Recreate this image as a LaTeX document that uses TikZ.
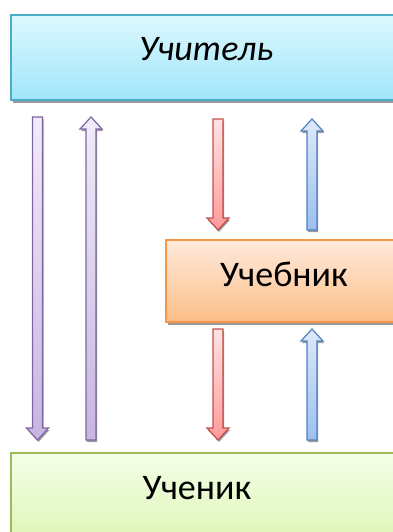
\documentclass[tikz,border=0pt]{standalone}
\usepackage{fontspec}
\setmainfont{Carlito}
\usetikzlibrary{shadings}
\definecolor{tealB}{HTML}{4BACC6}
\definecolor{tealT}{HTML}{DDF8FF}
\definecolor{tealD}{HTML}{A0E6FA}
\definecolor{orB}{HTML}{F79646}
\definecolor{orT}{HTML}{FFEADB}
\definecolor{orD}{HTML}{FBBE88}
\definecolor{grB}{HTML}{9BBB59}
\definecolor{grT}{HTML}{F5FFE8}
\definecolor{grD}{HTML}{DCF5B4}
\definecolor{puB}{HTML}{8064A2}
\definecolor{puT}{HTML}{F0ECF8}
\definecolor{puD}{HTML}{C7B5E2}
\definecolor{reB}{HTML}{C0504D}
\definecolor{reT}{HTML}{FFE2E2}
\definecolor{reD}{HTML}{FF9A9A}
\definecolor{blB}{HTML}{4F81BD}
\definecolor{blT}{HTML}{DEE9FA}
\definecolor{blD}{HTML}{9CC0F0}
\definecolor{shad}{HTML}{9A9A9A}
\tikzset{
  boxtext/.style={font=\fontsize{36}{40}\selectfont, anchor=base, inner sep=0pt},
  shadowfill/.style={fill=shad, draw=none},
}
% block arrow: #1 x, #2 y start (tail), #3 y tip, #4 border, #5 top color, #6 bottom color
\newcommand{\myblockarrow}[6]{%
  \pgfmathsetmacro{\dir}{(#3>#2)?1:-1}%
  \pgfmathsetmacro{\hb}{#3-12*\dir}%
  \fill[shad] (#1-5+1,#2+2) -- (#1+5+1,#2+2) -- (#1+5+1,\hb+2) -- (#1+11+1,\hb+2) -- (#1+1,#3+2) -- (#1-11+1,\hb+2) -- (#1-5+1,\hb+2) -- cycle;
  \shade[top color=#5, bottom color=#6, draw=#4, line width=1.2pt, line join=miter]
    (#1-5,#2) -- (#1+5,#2) -- (#1+5,\hb) -- (#1+11,\hb) -- (#1,#3) -- (#1-11,\hb) -- (#1-5,\hb) -- cycle;
}
\begin{document}
\begin{tikzpicture}[x=1pt,y=-1pt]
\useasboundingbox (0,0) rectangle (392,532);
% shadows of boxes
\fill[shad] (13,18) rectangle (404,103);
\fill[shad] (168,243) rectangle (404,325);
% boxes
\shade[top color=tealT, bottom color=tealD, draw=tealB, line width=1.5pt] (11,15) rectangle (402,100);
\node[inner sep=0pt, minimum size=0pt] (teacher) at (206,57) {};
\shade[top color=orT, bottom color=orD, draw=orB, line width=1.5pt] (166,240) rectangle (402,322);
\node[inner sep=0pt, minimum size=0pt] (book) at (284,281) {};
\shade[top color=grT, bottom color=grD, draw=grB, line width=1.5pt] (11,453) rectangle (402,545);
\node[inner sep=0pt, minimum size=0pt] (pupil) at (197,493) {};
% texts
\node[boxtext] (t1) at (206,61) {\itshape Учитель};
\node[boxtext] (t2) at (284,286) {Учебник};
\node[boxtext] (t3) at (197,499) {Ученик};
% arrows
\myblockarrow{37.5}{117}{440}{puB}{puT}{puD}
\myblockarrow{91}{440}{117}{puB}{puT}{puD}
\myblockarrow{218}{119}{230}{reB}{reT}{reD}
\myblockarrow{312}{230}{119}{blB}{blT}{blD}
\myblockarrow{218}{329}{440}{reB}{reT}{reD}
\myblockarrow{312}{440}{329}{blB}{blT}{blD}
\end{tikzpicture}
\end{document}
